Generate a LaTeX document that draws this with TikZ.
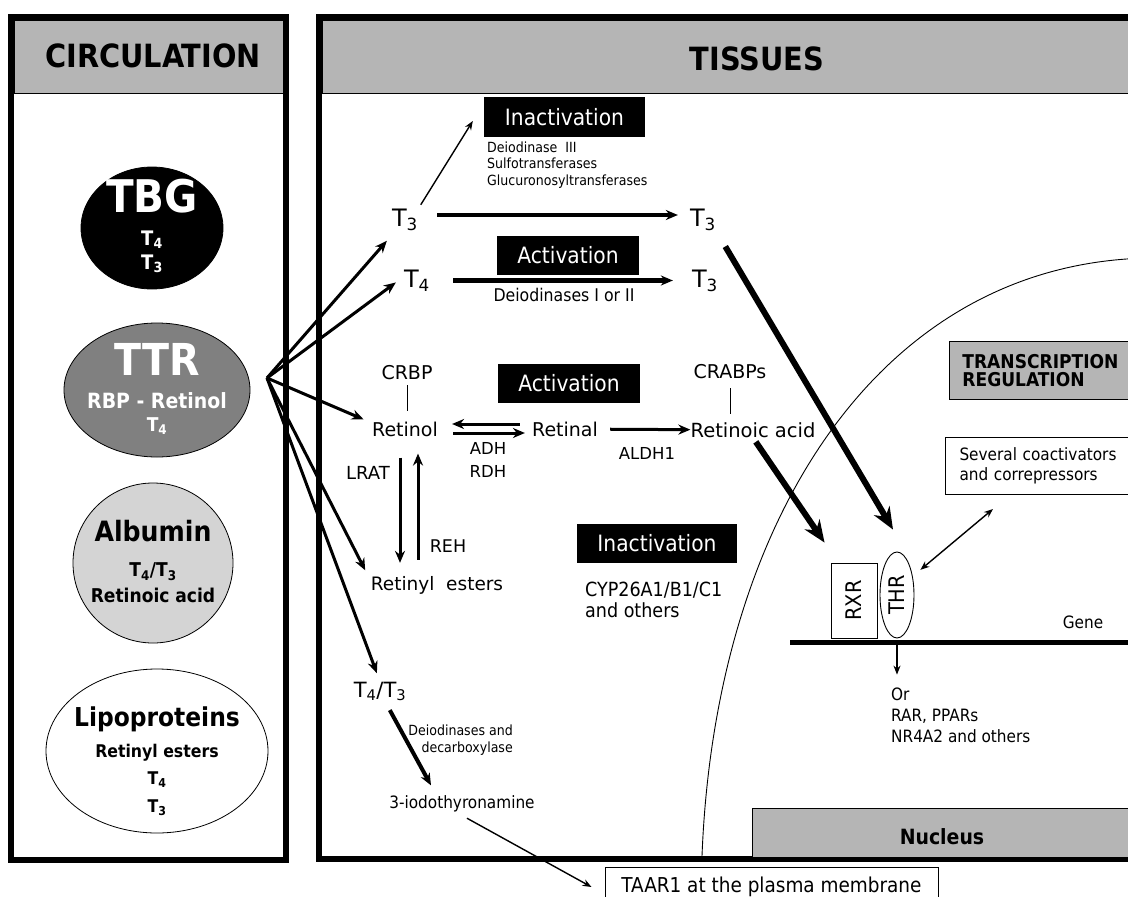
\documentclass[tikz,border=0pt]{standalone}
\usepackage{fontspec}
\setmainfont{DejaVu Sans}
\newfontfamily\condf{DejaVu Sans Condensed}
\usetikzlibrary{shapes.geometric, arrows.meta}

\definecolor{entete}{gray}{0.71}
\definecolor{grisfonce}{gray}{0.5}
\definecolor{grisclair}{gray}{0.83}

\newcommand{\fsz}[2]{\fontsize{#1}{#2}\selectfont}
\newcommand{\Tn}[1]{T\textsubscript{#1}}

\begin{document}
\begin{tikzpicture}[x=1pt, y=-1pt, >=stealth,
		etiq/.style={inner sep=0pt, font=\fsz{19}{23}},
		cond/.style={inner sep=0pt, font=\condf\fsz{#1}{#1}},
		gras/.style={inner sep=0pt, font=\condf\bfseries\fsz{#1}{#1}},
		hormone/.style={inner sep=0pt, font=\fsz{24}{24}},
		boitenoire/.style={fill=black, text=white, inner sep=0pt, minimum width=142, minimum height=39, font=\condf\fsz{22.5}{22.5}},
		proteine/.style={ellipse, draw, line width=0.8pt, inner sep=0pt},
		fleche/.style={->, >={Stealth[length=12pt, width=10pt]}, line width=3pt},
		grosse/.style={->, >={Stealth[length=22pt, width=18pt]}, line width=6pt},
		fine/.style={->, >={Stealth[length=9pt, width=7pt]}, line width=1.4pt}]

		% Fond et cadre de l'image
		\useasboundingbox (0,0) rectangle (1128,897);
		\clip (0,0) rectangle (1128,897);
		\fill[white] (0,0) rectangle (1128,897);

		% Panneau de gauche : circulation
		\draw[fill=entete, line width=0.8pt] (14,20) rectangle (283,93);
		\draw[line width=6pt] (11,17) rectangle (286,860);
		\node[gras=32] (circ) at (153,56) {CIRCULATION};

		% Panneau de droite : tissus
		\draw[fill=entete, line width=0.8pt] (322,20) rectangle (1212,93);
		\draw[line width=6pt] (319,17) rectangle (1215,859);
		\node[gras=32] (tiss) at (757,59) {TISSUES};

		% Enveloppe du noyau
		\draw[line width=0.9pt] (702,856) .. controls (715,520) and (880,262) .. (1150,258);

		% Protéines de transport
		\node[proteine, fill=black, minimum width=142, minimum height=122] (tbg) at (152,228) {};
		\node[gras=45, text=white] (tbgnom) at (152,196.5) {TBG};
		\node[gras=20, text=white, align=center, font=\condf\bfseries\fsz{20}{24}] (tbgt) at (152,251.5) {\Tn{4}\\\Tn{3}};

		\node[proteine, fill=grisfonce, minimum width=186, minimum height=134] (ttr) at (157,390) {};
		\node[gras=44, text=white] (ttrnom) at (157,359) {TTR};
		\node[gras=21, text=white] (ttrrbp) at (157,401) {RBP - Retinol};
		\node[gras=19, text=white] (ttrt) at (157,426) {\Tn{4}};

		\node[proteine, fill=grisclair, minimum width=160, minimum height=160] (alb) at (153,563) {};
		\node[gras=28] (albnom) at (153,531) {Albumin};
		\node[gras=19, align=center, font=\condf\bfseries\fsz{19}{26}] (alblig) at (153,583) {\Tn{4}/\Tn{3}\\Retinoic acid};

		\node[proteine, fill=white, minimum width=222, minimum height=164] (lipo) at (157,751) {};
		\node[gras=26] (liponom) at (157,719) {Lipoproteins};
		\node[gras=17.5, align=center, font=\condf\bfseries\fsz{17.5}{27.5}] (lipolig) at (157,780) {Retinyl esters\\\Tn{4}\\\Tn{3}};

		% Hormones thyroïdiennes
		\node[hormone] (t3a) at (405,220) {\Tn{3}};
		\node[hormone] (t4a) at (417,280.5) {\Tn{4}};
		\node[hormone] (t3b) at (703,220) {\Tn{3}};
		\node[hormone] (t3c) at (705,280.5) {\Tn{3}};
		\node[boitenoire, minimum width=161, minimum height=40] (inact1) at (564.5,117) {Inactivation};
		\node[cond=14, anchor=west, align=left, font=\condf\fsz{14}{16.7}] (enz1) at (487,165) {Deiodinase\ \ III\\Sulfotransferases\\Glucuronosyltransferases};
		\node[boitenoire] (act1) at (568,255.5) {Activation};
		\node[cond=17.5] (deiod) at (564,295) {Deiodinases I or II};

		% Rétinoïdes
		\node[etiq] (crbp) at (407,373) {CRBP};
		\node[etiq] (retinol) at (405,429) {Retinol};
		\node[etiq] (retinal) at (565,429) {Retinal};
		\node[etiq, font=\fsz{19.5}{23}] (ra) at (753,430) {Retinoic acid};
		\node[etiq] (crabp) at (730,372) {CRABPs};
		\node[boitenoire] (act2) at (569,383.5) {Activation};
		\node[etiq, align=center, font=\fsz{16.5}{22.7}] (adh) at (488,460) {ADH\\RDH};
		\node[etiq, font=\fsz{16.5}{20}] (aldh) at (647,453) {ALDH1};
		\node[etiq, font=\fsz{18}{20}] (lrat) at (368,473) {LRAT};
		\node[etiq, font=\fsz{17.5}{20}] (reh) at (448,546) {REH};
		\node[etiq, font=\fsz{18.5}{22}] (resters) at (437,585) {Retinyl\ \ esters};
		\node[boitenoire, minimum width=160] (inact2) at (657,543.5) {Inactivation};
		\node[cond=19.5, anchor=west, align=left, font=\condf\fsz{19.5}{21}] (cyp) at (585,600) {CYP26A1/B1/C1\\and others};

		% Voie de la 3-iodothyronamine
		\node[etiq, font=\fsz{21}{21}] (t43) at (380,691.5) {\Tn{4}/\Tn{3}};
		\node[cond=14, anchor=east, align=right, font=\condf\fsz{14}{17.3}] (deiod2) at (513,740) {Deiodinases and\\decarboxylase};
		\node[cond=17] (iodo) at (462,803.8) {3-iodothyronamine};
		\node[draw, line width=1pt, minimum width=333, minimum height=40, inner sep=0pt, font=\condf\fsz{20.5}{20.5}] (taar) at (771.5,887) {TAAR1 at the plasma membrane};

		% Régulation de la transcription dans le noyau
		\node[draw, fill=entete, line width=0.8pt, anchor=north west, minimum height=58, text width=230pt, inner xsep=13pt, inner ysep=0pt, align=left, font=\condf\bfseries\fsz{19}{18}] (treg) at (949,341) {TRANSCRIPTION\\REGULATION};
		\node[draw, line width=1pt, anchor=north west, minimum height=57, text width=230pt, inner xsep=14pt, inner ysep=0pt, align=left, font=\condf\fsz{17}{20.6}] (coact) at (945,437) {Several coactivators\\and correpressors};
		\node[draw, line width=0.9pt, minimum width=46, minimum height=75, inner sep=0pt] (rxr) at (854,600.5) {};
		\node[cond=21.5, rotate=90] (rxrtxt) at (rxr) {RXR};
		\node[draw, ellipse, line width=0.9pt, minimum width=34, minimum height=86, inner sep=0pt] (thr) at (897,595) {};
		\node[cond=21.5, rotate=90] (thrtxt) at (thr) {THR};
		\coordinate (gdeb) at (790,642);
		\coordinate (gfin) at (1215,642);
		\draw[line width=5pt] (gdeb) -- (gfin);
		\node[cond=17] (gene) at (1083,622.5) {Gene};
		\node[cond=17, anchor=north west, align=left, font=\condf\fsz{17}{20.8}] (orl) at (891,687.6) {Or\\RAR, PPARs\\NR4A2 and others};
		\node[draw, fill=entete, line width=0.8pt, anchor=north west, minimum width=470, minimum height=49, inner sep=0pt] (nucl) at (752,808) {};
		\node[gras=21] (nucltxt) at (942,837) {Nucleus};

		% Flèches depuis la circulation
		\coordinate (hub) at (267,378);
		\draw[fleche, shorten >=13pt] (hub) -- (t3a);
		\draw[fleche, shorten >=10pt] (hub) -- ([yshift=4pt]t4a.west);
		\draw[fleche, shorten >=9pt] (hub) -- ([yshift=6pt]retinol.west);
		\draw[fleche, shorten >=12pt] (hub) -- ([yshift=4pt]resters.west);
		\draw[fleche, shorten >=9pt] (hub) -- (t43.north);

		% Activation et inactivation des hormones
		\draw[fleche, line width=4.5pt, shorten <=19pt, shorten >=12pt] ([yshift=5pt]t3a.east) -- ([yshift=5pt]t3b.west);
		\draw[fleche, line width=4.5pt, shorten <=23pt, shorten >=19pt] (t4a.east) -- (t3c.west);
		\draw[fine, shorten <=5pt] (t3a.north east) -- ([xshift=-11pt, yshift=-4pt]inact1.west);

		% Métabolisme du rétinol
		\draw[fleche, shorten <=12pt, shorten >=14pt] ([yshift=5pt]retinal.west) -- ([yshift=5pt]retinol.east);
		\draw[fleche, shorten <=15pt, shorten >=7pt] ([yshift=-4pt]retinol.east) -- ([yshift=-4pt]retinal.west);
		\draw[fleche, shorten <=12pt] (retinal) -- (ra);
		\draw[fleche, shorten <=21pt, shorten >=13pt] ([xshift=-5pt]retinol.south) -- ([xshift=-5pt]retinol.south |- resters.north);
		\draw[fleche, shorten <=16pt, shorten >=17pt] ([xshift=13pt]retinol.south |- resters.north) -- ([xshift=13pt]retinol.south);
		\draw[line width=1pt, shorten <=5pt, shorten >=10pt] (crbp.south) -- (crbp.south |- retinol.north);
		\draw[line width=1pt, shorten <=9pt, shorten >=8pt] (crabp.south) -- (crabp.south |- ra.north);

		% Vers la 3-iodothyronamine et TAAR1
		\draw[fleche, line width=4pt, shorten <=10pt] ([xshift=5pt]t43.south) -- ([xshift=-31pt, yshift=10pt]iodo.north);
		\draw[fine] ([xshift=5pt, yshift=-6pt]iodo.south) -- ([xshift=-13pt]taar.west);

		% Vers les récepteurs nucléaires
		\draw[grosse, shorten <=18pt] (t3b.south east) -- ([xshift=-4pt, yshift=22pt]thr.north);
		\draw[grosse, shorten <=5pt] (ra.south) -- ([xshift=-6pt, yshift=20pt]rxr.north west);
		\draw[fine, <->, shorten <=10pt] (thr.50) -- ([xshift=48pt, yshift=-14pt]coact.south west);
		\draw[fine, shorten >=13pt] (thr.south |- gdeb) -- (thr.south |- orl.north);
\end{tikzpicture}
\end{document}
